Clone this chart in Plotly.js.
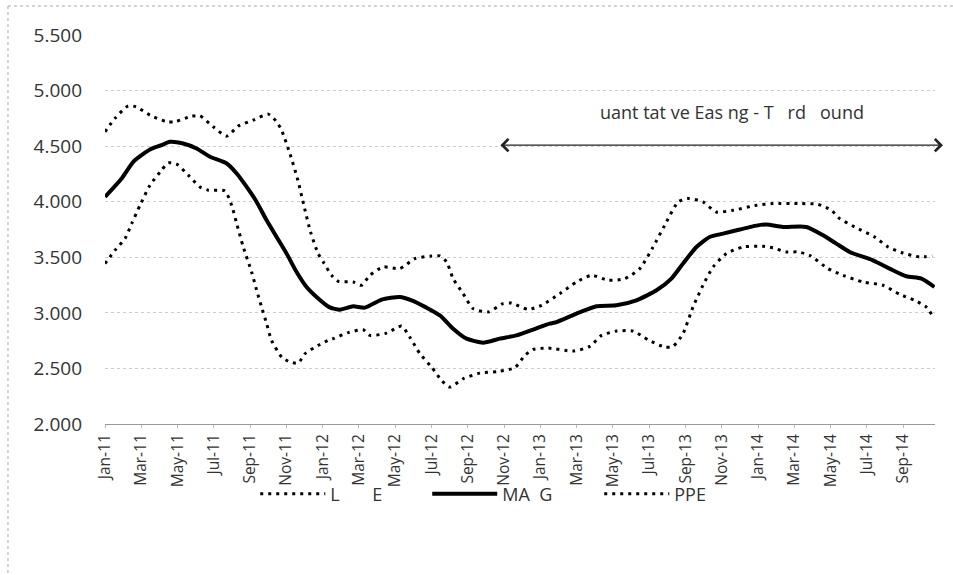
<!DOCTYPE html>
<html>
<head>
<meta charset="utf-8">
<script src="https://cdn.plot.ly/plotly-3.0.1.min.js"></script>
<style>html,body{margin:0;padding:0;background:#fff;}#chart{width:953px;height:575px;}</style>
</head>
<body>
<div id="chart"></div>
<script>
// months since Jan-11
const upperMonths = [0,0.55,1.28,1.71,2.48,3.40,3.86,4.78,5.23,5.97,6.71,7.34,8.17,9.00,9.46,9.73,10.19,10.62,10.96,11.33,11.75,12.03,12.49,12.85,13.68,14.14,14.60,15.33,16.25,17.08,18.00,18.46,18.83,19.19,19.74,20.29,21.12,21.94,22.41,23.32,24.06,25.07,25.99,26.82,27.73,28.65,29.48,30.21,30.85,31.59,32.14,32.96,33.70,34.62,35.91,36.82,38.29,39.30,40.04,40.50,41.32,42.42,43.16,43.98,44.90,45.60];
const upper = [4.629,4.75,4.863,4.854,4.779,4.719,4.719,4.77,4.773,4.674,4.59,4.68,4.734,4.788,4.719,4.644,4.434,4.2,3.968,3.728,3.533,3.458,3.338,3.284,3.278,3.248,3.338,3.413,3.398,3.488,3.512,3.512,3.458,3.308,3.173,3.038,3.008,3.083,3.088,3.032,3.068,3.173,3.278,3.338,3.293,3.308,3.398,3.593,3.788,3.998,4.029,3.998,3.908,3.923,3.968,3.983,3.983,3.977,3.923,3.848,3.773,3.683,3.593,3.539,3.503,3.512];

const mavgMonths = [0,0.92,1.56,2.48,3.12,3.58,4.31,5.05,5.79,6.71,7.26,7.81,8.36,8.91,9.46,10.01,10.56,11.11,11.66,12.36,12.95,13.68,14.33,15.25,16.25,16.90,17.72,18.46,19.19,19.93,20.84,21.76,22.68,23.75,24.51,24.89,25.99,27.09,28.19,29.29,30.40,31.22,31.86,32.60,33.33,34.07,34.99,35.91,36.46,37.37,38.66,39.58,40.31,41.05,42.33,43.25,44.17,45.00,45.72];
const mavg = [4.044,4.209,4.359,4.47,4.509,4.539,4.524,4.479,4.404,4.344,4.254,4.133,3.998,3.833,3.683,3.533,3.368,3.233,3.143,3.052,3.029,3.059,3.047,3.119,3.143,3.113,3.047,2.977,2.858,2.768,2.732,2.768,2.797,2.858,2.903,2.917,2.993,3.059,3.068,3.113,3.203,3.308,3.443,3.593,3.683,3.713,3.75,3.785,3.795,3.773,3.773,3.698,3.623,3.548,3.473,3.398,3.329,3.308,3.233];

const lowerMonths = [0,0.55,1.10,1.47,1.93,2.48,3.12,3.49,3.95,4.59,5.23,5.69,6.61,6.98,7.26,7.62,8.08,8.36,8.63,8.91,9.18,9.74,10.19,10.65,11.02,11.75,12.30,12.58,13.40,14.23,14.60,15.52,16.35,16.80,17.36,18.00,18.55,19.01,19.74,20.66,21.67,22.59,23.14,23.60,24.42,25.80,26.72,27.37,28.19,29.11,29.93,30.85,31.31,31.86,32.41,32.96,33.52,34.25,35.17,36.27,36.82,37.56,38.20,38.84,39.85,40.68,41.78,42.88,43.80,44.63,45.27,45.64];
const lower = [3.443,3.563,3.668,3.803,3.968,4.149,4.284,4.35,4.338,4.239,4.133,4.104,4.097,3.968,3.803,3.593,3.368,3.203,3.052,2.903,2.752,2.602,2.557,2.548,2.632,2.707,2.752,2.768,2.822,2.848,2.797,2.818,2.881,2.782,2.632,2.512,2.392,2.332,2.407,2.458,2.473,2.506,2.617,2.671,2.683,2.656,2.698,2.797,2.836,2.836,2.758,2.692,2.698,2.813,3.052,3.248,3.413,3.533,3.593,3.599,3.584,3.548,3.548,3.518,3.398,3.338,3.278,3.248,3.167,3.113,3.052,2.968];

const tickMonths = [0,2,4,6,8,10,12,14,16,18,20,22,24,26,28,30,32,34,36,38,40,42,44];
const tickLabels = ["Jan-11","Mar-11","May-11","Jul-11","Sep-11","Nov-11","Jan-12","Mar-12","May-12","Jul-12","Sep-12","Nov-12","Jan-13","Mar-13","May-13","Jul-13","Sep-13","Nov-13","Jan-14","Mar-14","May-14","Jul-14","Sep-14"];

const seriesNames = ["L\u00a0\u00a0\u00a0\u00a0\u00a0\u00a0\u00a0E", "MA\u00a0\u00a0G", "PPE"];
const qeLabel = "uant tat ve Eas ng - T\u00a0\u00a0\u00a0rd\u00a0\u00a0\u00a0ound";
const qeStartMonth = 21.71;
const qeLevel = 4.509;
const qeLabelMonth = 34.55;
const qeLabelLevel = 4.806;

const FONT = "Open Sans, Lato, sans-serif";
const dotted = {color:'#000', width:3, dash:'3px,5px', shape:'spline', smoothing:0.6};

const traces = [
  {x:lowerMonths, y:lower, name:seriesNames[0], mode:'lines', line:dotted},
  {x:mavgMonths, y:mavg, name:seriesNames[1], mode:'lines', line:{color:'#000', width:4, shape:'spline', smoothing:0.6}},
  {x:upperMonths, y:upper, name:seriesNames[2], mode:'lines', line:dotted}
];

const layout = {
  width:953, height:575,
  margin:{l:105, r:18, t:35, b:151},
  paper_bgcolor:'#fff', plot_bgcolor:'#fff',
  font:{family:FONT, size:18, color:'#333'},
  showlegend:true,
  legend:{orientation:'h', x:0.181, xanchor:'left', y:-0.18, yanchor:'middle', bgcolor:'rgba(0,0,0,0)',
          font:{family:FONT, size:18, color:'#333'}, itemwidth:65, entrywidth:92, entrywidthmode:'pixels'},
  xaxis:{range:[0,45.75], tickmode:'array', tickvals:tickMonths, ticktext:tickLabels, tickangle:-90,
         showgrid:false, zeroline:false, showline:true, linecolor:'#999', linewidth:1,
         ticks:'outside', ticklen:3, tickcolor:'#bbb', tickfont:{family:FONT, size:15.5, color:'#333'}},
  yaxis:{range:[2,5.5], tickmode:'array', tickvals:[2,2.5,3,3.5,4,4.5,5,5.5], tickformat:'.3f',
         showgrid:true, gridcolor:'#ccc', griddash:'dot', gridwidth:1, zeroline:false, showline:false,
         ticks:'', ticklabelstandoff:22, tickfont:{family:FONT, size:19, color:'#333'}},
  annotations:[
    {xref:'paper', yref:'y', x:1.0096, y:qeLevel, axref:'pixel', ayref:'pixel',
     ax:-(1.0096*830 - (qeStartMonth/45.75)*830), ay:0, text:'', showarrow:true,
     arrowside:'end+start', arrowhead:4, startarrowhead:4, arrowsize:2, startarrowsize:2, arrowwidth:1.2, arrowcolor:'#222'},
    {xref:'x', yref:'y', x:qeLabelMonth, y:qeLabelLevel, text:qeLabel, showarrow:false,
     font:{family:FONT, size:18, color:'#333'}}
  ],
  shapes:[
    {type:'line', xref:'paper', yref:'paper', x0:-0.1169, x1:1.03, y0:1.0746, y1:1.0746, line:{color:'#aaa', width:1, dash:'dot'}},
    {type:'line', xref:'paper', yref:'paper', x0:-0.1169, x1:-0.1169, y0:1.0746, y1:-0.40, line:{color:'#aaa', width:1, dash:'dot'}}
  ]
};

Plotly.newPlot('chart', traces, layout, {displayModeBar:false, staticPlot:true});
</script>
</body>
</html>
